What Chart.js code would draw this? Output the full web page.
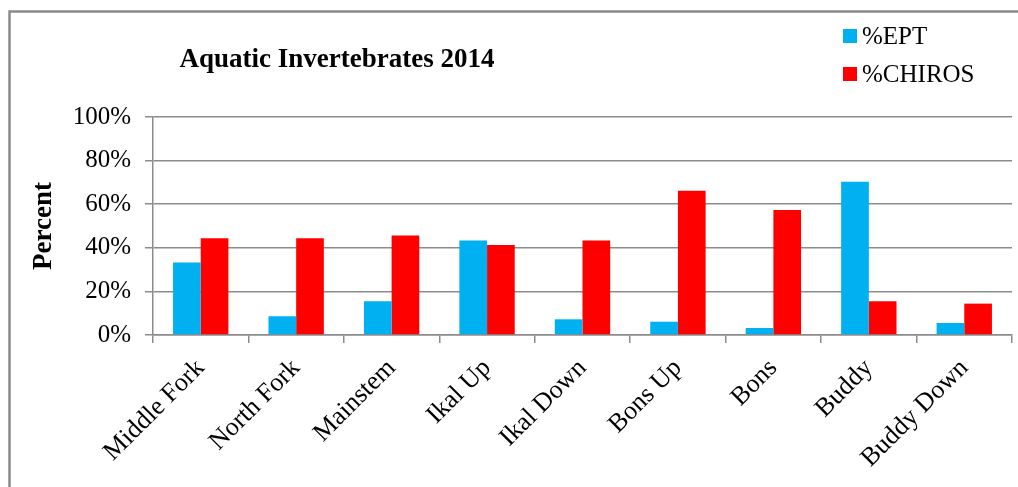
<!DOCTYPE html>
<html>
<head>
<meta charset="utf-8">
<script src="https://cdn.jsdelivr.net/npm/chart.js@4"></script>
<style>
  html, body { margin: 0; padding: 0; background: #fff; }
  #wrap { position: relative; width: 1018px; height: 487px; }
</style>
</head>
<body>
<div id="wrap"><canvas id="chart"></canvas></div>
<script>
// --- data ---
const sites = ['Middle Fork', 'North Fork', 'Mainstem', 'Ikal Up', 'Ikal Down', 'Bons Up', 'Bons', 'Buddy', 'Buddy Down'];
const eptPct = [33.2, 8.6, 15.5, 43.3, 7.2, 6.1, 3.2, 70.3, 5.5];
const chirosPct = [44.4, 44.4, 45.6, 41.3, 43.3, 66.2, 57.3, 15.5, 14.4];
const yTickValues = [0, 20, 40, 60, 80, 100];
const chartTitle = 'Aquatic Invertebrates 2014';

const SERIF = '"Liberation Serif", "Times New Roman", serif';
const GRID = '#8c8c8c';

// frame, title and legend (drawn from the chart's own datasets)
const decor = {
  id: 'decor',
  beforeDraw(chart) {
    const ctx = chart.ctx;
    ctx.save();
    ctx.fillStyle = '#fff';
    ctx.fillRect(0, 0, chart.width, chart.height);
    ctx.strokeStyle = '#8a8a8a';
    ctx.lineWidth = 2.5;
    ctx.beginPath();
    ctx.moveTo(9.5, chart.height);
    ctx.lineTo(9.5, 11.5);
    ctx.lineTo(chart.width, 11.5);
    ctx.stroke();
    ctx.restore();
  },
  afterDraw(chart) {
    const ctx = chart.ctx;
    ctx.save();
    ctx.fillStyle = '#000';
    ctx.font = 'bold 27px ' + SERIF;
    ctx.textAlign = 'center';
    ctx.textBaseline = 'alphabetic';
    ctx.fillText(chartTitle, 337, 67);

    ctx.font = '25px ' + SERIF;
    ctx.textAlign = 'left';
    chart.data.datasets.forEach((ds, i) => {
      const y = 29 + i * 38;
      ctx.fillStyle = ds.backgroundColor;
      ctx.fillRect(843, y, 14, 14);
      ctx.fillStyle = '#000';
      ctx.fillText(ds.label, 862, y + 15);
    });
    ctx.restore();
  }
};

new Chart(document.getElementById('chart'), {
  type: 'bar',
  data: {
    labels: sites,
    datasets: [
      { label: '%EPT', data: eptPct, backgroundColor: '#00B0F0' },
      { label: '%CHIROS', data: chirosPct, backgroundColor: '#FF0000' }
    ]
  },
  options: {
    responsive: true,
    maintainAspectRatio: false,
    animation: false,
    layout: { padding: { top: 117, right: 6, left: 0, bottom: 0 } },
    datasets: { bar: { categoryPercentage: 0.58, barPercentage: 1.0, borderWidth: 0 } },
    plugins: {
      legend: { display: false },
      title: { display: false },
      tooltip: { enabled: false }
    },
    scales: {
      x: {
        afterFit: s => { s.height = 152; },
        grid: { offset: true, drawOnChartArea: false, drawTicks: true, tickLength: 8, color: GRID, lineWidth: 1.5 },
        border: { display: true, color: GRID, width: 1.5 },
        ticks: { minRotation: 45, maxRotation: 45, color: '#000', padding: 10, font: { family: SERIF, size: 26 } }
      },
      y: {
        min: 0,
        max: 100,
        afterFit: s => { s.width = 153; },
        afterBuildTicks: s => { s.ticks = yTickValues.map(v => ({ value: v })); },
        grid: { color: GRID, lineWidth: 1.5, tickLength: 8 },
        border: { display: true, color: GRID, width: 1.5 },
        ticks: {
          color: '#000', padding: 14,
          font: { family: SERIF, size: 25 },
          callback: v => v + '%'
        },
        title: {
          display: true, text: 'Percent', color: '#000',
          padding: { top: 28, bottom: 0 },
          font: { family: SERIF, size: 27, weight: 'bold' }
        }
      }
    }
  },
  plugins: [decor]
});
</script>
</body>
</html>
